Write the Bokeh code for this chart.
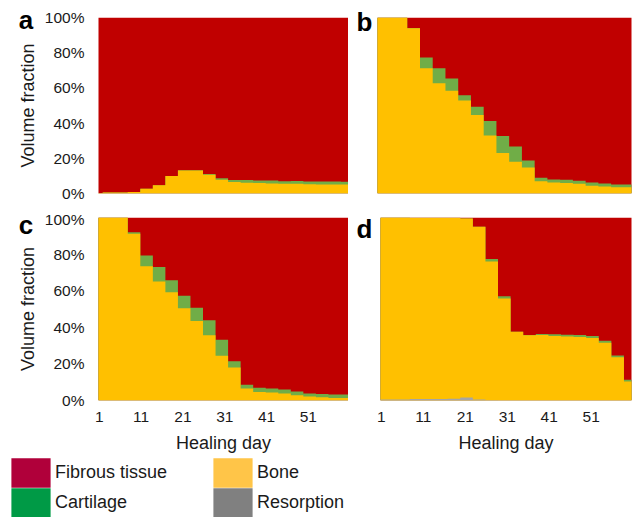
import numpy as np
from bokeh.plotting import figure
from bokeh.layouts import column, row
from bokeh.models import (FixedTicker, PrintfTickFormatter, Label, Legend,
                          LegendItem, Range1d)
from bokeh.embed import file_html
from bokeh.resources import INLINE

# ---- data (volume fraction, %) : one value per 3-day simulation step ----
step_start_day = [-1.2, 1.8, 4.8, 7.8, 10.8, 13.8, 16.8, 19.8, 22.8, 25.8, 28.8,
                  31.8, 34.8, 37.8, 40.8, 43.8, 46.8, 49.8, 52.8, 55.8, 58.8]

# panel a
resorption_a = [0] * 21
bone_a = [0.3, 0.5, 0.5, 0.8, 2.7, 4.7, 9.9, 13.1, 13.0, 10.6, 7.8,
          6.6, 6.1, 5.9, 5.7, 5.5, 5.5, 5.3, 5.1, 5.1, 5.1]
cartilage_a = [0, 0, 0, 0, 0, 0, 0, 0.1, 0.2, 0.5, 0.9,
               1.1, 1.5, 1.5, 1.7, 1.5, 1.6, 1.5, 1.7, 1.7, 1.6]

# panel b
resorption_b = [0] * 21
bone_b = [100, 100, 100, 93.9, 71.2, 62.6, 58.4, 52.8, 44.6, 33.0, 23.0,
          18.0, 14.8, 7.0, 6.3, 5.9, 5.5, 4.4, 4.0, 3.6, 3.6]
cartilage_b = [0, 0, 0, 0.1, 6.1, 8.5, 7.0, 3.0, 4.7, 8.2, 9.7,
               8.7, 4.0, 1.9, 1.7, 1.9, 1.7, 1.9, 1.7, 1.5, 1.5]

# panel c
resorption_c = [0] * 21
bone_c = [100, 100, 100, 91.1, 73.4, 65.0, 59.1, 50.4, 43.4, 35.6, 24.5,
          18.1, 6.6, 4.7, 4.4, 3.8, 2.9, 2.2, 1.8, 1.3, 1.3]
cartilage_c = [0, 0, 0, 0.9, 5.8, 8.0, 6.6, 6.9, 7.3, 8.2, 8.7,
               3.4, 2.0, 2.2, 2.2, 2.2, 2.0, 1.6, 1.7, 2.0, 2.0]

# panel d
resorption_d = [0.5, 0.5, 0.5, 0.8, 0.8, 0.8, 1.0, 1.6, 0.6, 0.2, 0,
                0, 0, 0, 0, 0, 0, 0, 0, 0, 0]
bone_d = [99.5, 99.5, 99.5, 99.0, 99.0, 99.0, 98.8, 97.9, 94.3, 75.8, 55.8,
          37.6, 35.6, 35.8, 35.2, 35.0, 34.7, 34.1, 31.6, 23.7, 10.4]
cartilage_d = [0, 0, 0, 0, 0, 0, 0, 0, 0, 1.3, 1.1,
               0, 0.2, 0.5, 1.0, 0.9, 1.1, 1.1, 1.1, 0.9, 0.9]

x_ticks = [1, 11, 21, 31, 41, 51]
y_ticks = [0, 20, 40, 60, 80, 100]
legend_labels = ["Fibrous tissue", "Cartilage", "Bone", "Resorption"]

# ---- style ----
FONT = "Liberation Sans"
TXT = "#1a1a1a"
C_FIB, C_CART, C_BONE, C_RES = "#C00000", "#70AD47", "#FFC000", "#A5A5A5"
LEG_COLORS = ["#B0003A", "#009A46", "#FFC548", "#808080"]
X_START, X_END = 0.8, 60.6


def make_panel(res, bone, cart, letter, width, height, borders, show_x, show_y,
               letter_pos):
    left, right, top, bottom = borders
    p = figure(width=width, height=height, output_backend="svg",
               toolbar_location=None,
               x_range=Range1d(X_START, X_END), y_range=Range1d(0, 100),
               x_axis_location="below" if show_x else None,
               y_axis_location="left" if show_y else None,
               min_border_left=left, min_border_right=right,
               min_border_top=top, min_border_bottom=bottom)
    p.outline_line_color = None
    p.xgrid.visible = False
    p.ygrid.visible = False
    p.background_fill_color = "white"
    p.border_fill_color = "white"

    res = np.array(res, float)
    bone = np.array(bone, float)
    cart = np.array(cart, float)
    fib = 100.0 - res - bone - cart
    s1 = res
    s2 = s1 + bone
    s3 = s2 + cart
    s4 = s3 + fib
    xs = list(step_start_day) + [step_start_day[-1] + 3]

    def ext(a):
        return list(a) + [a[-1]]

    for top_vals, col in [(s4, C_FIB), (s3, C_CART), (s2, C_BONE), (s1, C_RES)]:
        p.varea_step(x=xs, y1=0, y2=ext(top_vals), step_mode="after",
                     fill_color=col)

    for ax in p.axis:
        ax.axis_line_color = None
        ax.major_tick_line_color = None
        ax.minor_tick_line_color = None
        ax.major_tick_in = 0
        ax.major_tick_out = 0
        ax.major_label_text_font = FONT
        ax.major_label_text_font_size = "15.5px"
        ax.major_label_text_color = TXT
        ax.axis_label_text_font = FONT
        ax.axis_label_text_font_size = "18px"
        ax.axis_label_text_font_style = "normal"
        ax.axis_label_text_color = TXT
    if show_y:
        p.yaxis.ticker = FixedTicker(ticks=y_ticks)
        p.yaxis.formatter = PrintfTickFormatter(format="%d%%")
        p.yaxis.axis_label = "Volume fraction"
        p.yaxis.major_label_standoff = 14
        p.yaxis.axis_label_standoff = 4
    if show_x:
        p.xaxis.ticker = FixedTicker(ticks=x_ticks)
        p.xaxis.axis_label = "Healing day"
        p.xaxis.major_label_standoff = 11
        p.xaxis.axis_label_standoff = 8

    # panel letter, left of the frame (pixel offsets converted to data units);
    # placed in a side panel so that it is not clipped to the frame
    fw = width - left - right
    fh = height - top - bottom
    dx_px, dy_px = letter_pos
    lx = X_START - dx_px * (X_END - X_START) / fw
    ly = 100 - dy_px * 100.0 / fh
    p.add_layout(Label(x=lx, y=ly, text=letter, text_font=FONT,
                       text_font_size="26px", text_font_style="bold",
                       text_color="black", text_baseline="middle"),
                 "left")
    return p


# (left, right, top, bottom) borders;
# letter offset = (px left of frame, px of the letter's middle below frame top)
pa = make_panel(resorption_a, bone_a, cartilage_a, "a", 348, 210,
                (97, 0, 17, 17), False, True, (80, 2))
pb = make_panel(resorption_b, bone_b, cartilage_b, "b", 285, 210,
                (29, 2, 17, 17), False, False, (21, 4))
pc = make_panel(resorption_c, bone_c, cartilage_c, "c", 348, 248,
                (97, 0, 7, 58), True, True, (80, 7))
pd = make_panel(resorption_d, bone_d, cartilage_d, "d", 285, 248,
                (32, 2, 7, 58), True, False, (24, 11))

# ---- legend strip ----
lf = figure(width=633, height=59, output_backend="svg", toolbar_location=None,
            x_range=Range1d(0, 633), y_range=Range1d(0, 59),
            x_axis_location=None, y_axis_location=None,
            min_border_left=0, min_border_right=0, min_border_top=0,
            min_border_bottom=0)
lf.outline_line_color = None
lf.xgrid.visible = False
lf.ygrid.visible = False
legend_pos = [(6, 25.7), (6, -3.9), (208, 25.7), (208, -3.9)]
for lab, col, pos in zip(legend_labels, LEG_COLORS, legend_pos):
    r = lf.quad(left=[np.nan], right=[np.nan], top=[np.nan], bottom=[np.nan],
                fill_color=col, line_color=None)
    leg = Legend(items=[LegendItem(label=lab, renderers=[r])],
                 location=pos, glyph_width=49, glyph_height=37,
                 label_standoff=0, padding=0, margin=0, spacing=0,
                 border_line_color=None, background_fill_alpha=0,
                 label_text_font=FONT, label_text_font_size="18px",
                 label_text_color=TXT)
    lf.add_layout(leg, "center")

layout = column(row(pa, pb), row(pc, pd), lf)
open("out.html", "w").write(file_html(layout, INLINE))
